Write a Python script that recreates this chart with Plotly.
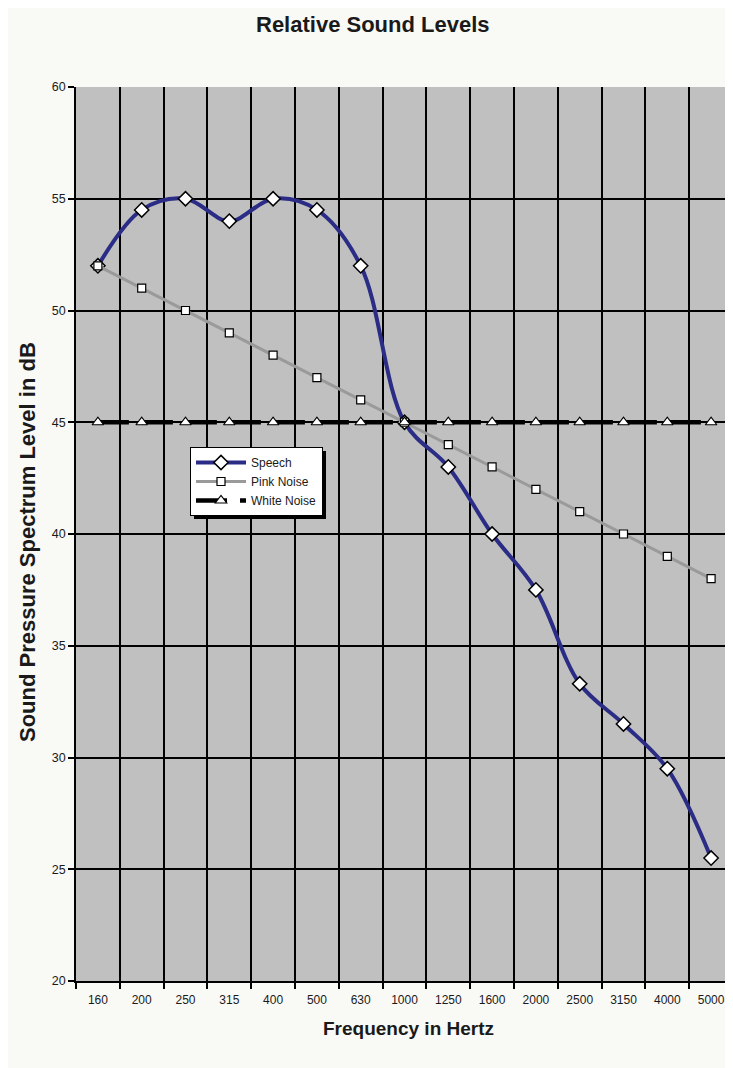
import plotly.graph_objects as go

freq_labels = ["160", "200", "250", "315", "400", "500", "630", "1000",
               "1250", "1600", "2000", "2500", "3150", "4000", "5000"]
speech = [52, 54.5, 55, 54, 55, 54.5, 52, 45, 43, 40, 37.5, 33.3, 31.5, 29.5, 25.5]
pink_noise = [52, 51, 50, 49, 48, 47, 46, 45, 44, 43, 42, 41, 40, 39, 38]
white_noise = [45] * 15
y_ticks = [20, 25, 30, 35, 40, 45, 50, 55, 60]

# page has an 8px body margin; figure coordinates below are figure pixels
W, H = 725, 1060
L, R, T, B = 68, 0, 79, 87
pw, ph = W - L - R, H - T - B


def px_x(p):
    return (p - L) / pw


def px_y(p):
    return (H - B - p) / ph


xs = list(range(len(freq_labels)))
FONT = "Liberation Sans, Arial, sans-serif"

fig = go.Figure()
fig.add_trace(go.Scatter(
    x=xs, y=speech, name="Speech", mode="lines+markers",
    line=dict(color="#2a2c85", width=4, shape="spline", smoothing=1.0),
    marker=dict(symbol="diamond", size=11, color="white",
                line=dict(color="black", width=1.5)),
))
fig.add_trace(go.Scatter(
    x=xs, y=pink_noise, name="Pink Noise", mode="lines+markers",
    line=dict(color="#9a9a9a", width=3),
    marker=dict(symbol="square", size=8, color="white",
                line=dict(color="black", width=1.2)),
))
fig.add_trace(go.Scatter(
    x=xs, y=white_noise, name="White Noise", mode="lines+markers",
    line=dict(color="black", width=4.5, dash="31px,13px"),
    marker=dict(symbol="triangle-up", size=10, color="white",
                line=dict(color="black", width=1.2)),
))

# legend shadow
lx0, ly0 = 182, 439
lw, lh = 132, 68
fig.add_shape(type="rect", xref="paper", yref="paper",
              x0=px_x(lx0 + 4), x1=px_x(lx0 + lw + 4), y0=px_y(ly0 + 4), y1=px_y(ly0 + lh + 4),
              fillcolor="black", line=dict(width=0), layer="above")

fig.add_annotation(text="<b>Relative Sound Levels</b>", xref="paper", yref="paper",
                   x=px_x(365), y=px_y(16), xanchor="center", yanchor="middle",
                   showarrow=False,
                   font=dict(family=FONT, size=22, color="#1a1a1a"))
fig.add_annotation(text="<b>Sound Pressure Spectrum Level in dB</b>", xref="paper", yref="paper",
                   x=px_x(19), y=px_y(534), xanchor="center", yanchor="middle",
                   showarrow=False, textangle=-90,
                   font=dict(family=FONT, size=22, color="#1a1a1a"))
fig.add_annotation(text="<b>Frequency in Hertz</b>", xref="paper", yref="paper",
                   x=px_x(400), y=px_y(1021), xanchor="center", yanchor="middle",
                   showarrow=False,
                   font=dict(family=FONT, size=19, color="#1a1a1a"))

fig.update_layout(
    width=W, height=H,
    margin=dict(l=L, r=R, t=T, b=B, pad=0),
    paper_bgcolor="#f9f9f6",
    plot_bgcolor="#c0c0c0",
    font=dict(family=FONT, size=12, color="#1a1a1a"),
    showlegend=True,
    legend=dict(x=px_x(lx0), y=px_y(ly0), xanchor="left", yanchor="top",
                bgcolor="white", bordercolor="black", borderwidth=1,
                font=dict(family=FONT, size=12, color="#1a1a1a"),
                itemwidth=50, tracegroupgap=0),
    xaxis=dict(
        range=[-0.5, 14.5], tickmode="array", tickvals=xs, ticktext=freq_labels,
        showgrid=False, ticks="", zeroline=False,
        showline=True, linecolor="black", linewidth=2,
        ticklabelstandoff=7,
        tickfont=dict(family=FONT, size=12, color="#1a1a1a"),
        minor=dict(tickmode="array", tickvals=[i - 0.5 for i in range(16)],
                   ticks="outside", ticklen=6, tickcolor="black", tickwidth=1.5,
                   showgrid=True, gridcolor="black", gridwidth=1.5),
    ),
    yaxis=dict(
        range=[20, 60], tickmode="array", tickvals=y_ticks,
        showgrid=True, gridcolor="black", gridwidth=1.5, zeroline=False,
        ticks="outside", ticklen=6, tickcolor="black", tickwidth=1.5,
        showline=True, linecolor="black", linewidth=1.5,
        tickfont=dict(family=FONT, size=12.5, color="#1a1a1a"),
    ),
)

fig.write_html("out.html")
